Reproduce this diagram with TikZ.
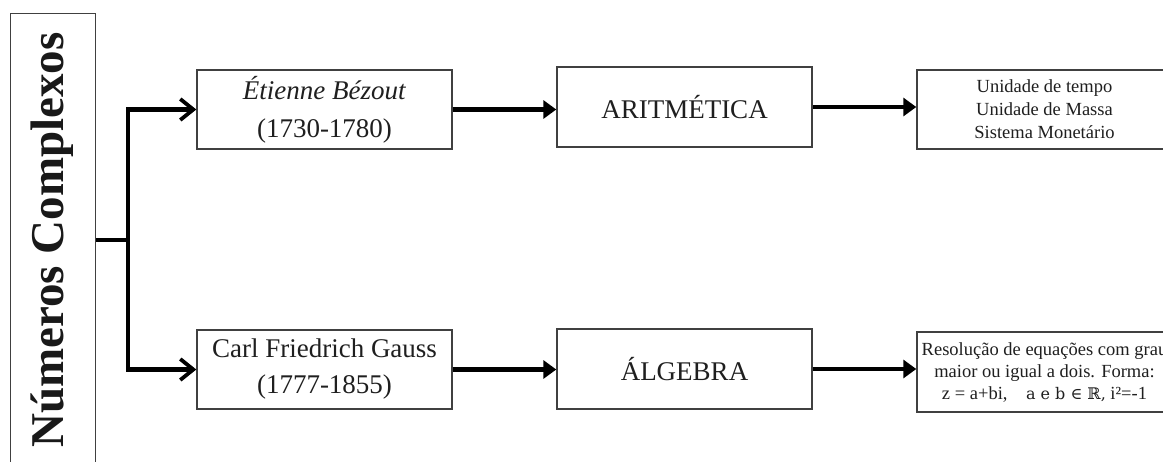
\documentclass[tikz,border=0pt]{standalone}
\usepackage{fontspec}
\setmainfont{Liberation Serif}
\newfontfamily\dvs{DejaVu Serif}
\usetikzlibrary{arrows.meta}
\begin{document}
\begin{tikzpicture}[x=1pt,y=-1pt,
  box/.style={draw=black!75, line width=1.4pt, rectangle, inner sep=0pt,
    minimum width=255pt, align=center, text=black!88},
  bigtxt/.style={font=\fontsize{27}{38}\selectfont},
  smalltxt/.style={font=\fontsize{18.5}{23}\selectfont},
  conn/.style={line width=4.5pt, black},
  barb/.style={conn, -{Straight Barb[length=13pt, width=21pt, line width=3.8pt]}},
  tri/.style={conn, -{Triangle[length=13pt, width=18pt]}}]
\clip (0,0) rectangle (1163,461);
\fill[white] (0,0) rectangle (1163,461);

% left title box
\node[draw=black!75, line width=1.4pt, inner sep=0pt, minimum width=85pt,
  minimum height=470pt, anchor=north west] (nc) at (10,13) {};
\node[rotate=90, anchor=base, text=black!90,
  font=\fontsize{47}{50}\selectfont\bfseries] (nct) at (63,240) {Números Complexos};

% boxes
\node[box, bigtxt, minimum height=79pt] (b1) at (324.5,109.5)
  {\textit{Étienne Bézout}\\(1730-1780)};
\node[box, bigtxt, minimum height=80pt] (a1) at (684.5,107) {ARITMÉTICA};
\node[box, smalltxt, minimum height=79pt] (c1) at (1044.5,109.5)
  {Unidade de tempo\\Unidade de Massa\\Sistema Monetário};

\node[box, bigtxt, font=\fontsize{27}{36}\selectfont, minimum height=79pt] (b2) at (324.5,369.5)
  {Carl Friedrich Gauss\\(1777-1855)};
\node[box, bigtxt, minimum height=80pt] (a2) at (684.5,369) {ÁLGEBRA};
\node[box, smalltxt, font=\fontsize{18.5}{22}\selectfont, minimum height=80pt] (c2) at (1044.5,372)
  {Resolução de equações com grau\\maior ou igual a dois. Forma:\\
   z = a+bi,\quad {\dvs\fontsize{16}{22}\selectfont a e b ∈ ℝ,} i²=-1};

% connectors
\coordinate (j) at (128,240);
\draw[conn] (nc.east |- j) -- (j);
\draw[barb] (j) |- (b1.west);
\draw[barb] (j) |- (b2.west);
\draw[tri] (b1.east) -- (b1.east -| a1.west);
\draw[tri] (a1.east) -- (a1.east -| c1.west);
\draw[tri] (b2.east) -- (b2.east -| a2.west);
\draw[tri] (a2.east) -- (a2.east -| c2.west);
\end{tikzpicture}
\end{document}
